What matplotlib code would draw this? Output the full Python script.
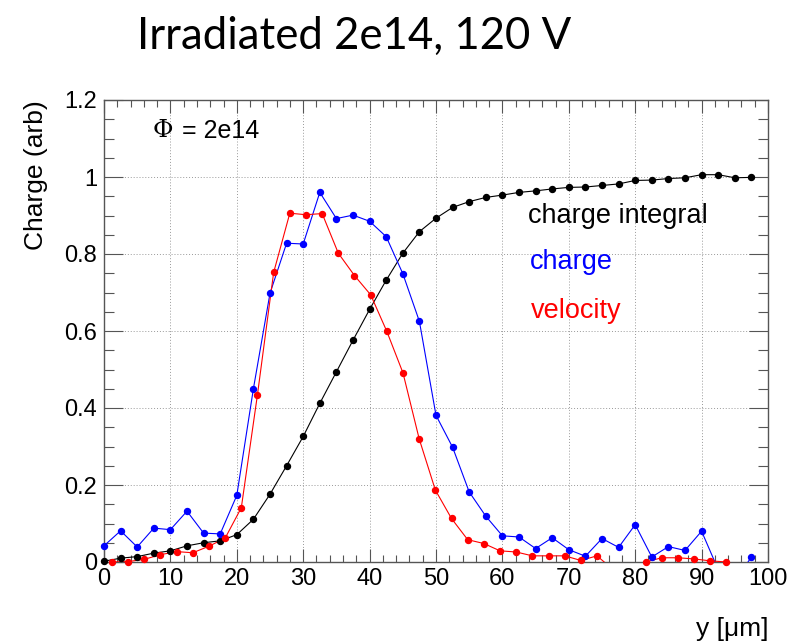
import numpy as np
import matplotlib.pyplot as plt
from matplotlib.ticker import MultipleLocator

# depth positions, um
y_pos = np.arange(40) * 2.5
y_vel = 1.2 + 2.435 * np.arange(39)

# normalised charge integral
q_int = [0.002, 0.010, 0.014, 0.023, 0.029, 0.042, 0.050, 0.055, 0.071, 0.111,
         0.176, 0.250, 0.326, 0.412, 0.494, 0.576, 0.656, 0.732, 0.802, 0.858,
         0.893, 0.921, 0.936, 0.947, 0.953, 0.960, 0.964, 0.969, 0.973, 0.974,
         0.978, 0.982, 0.991, 0.992, 0.996, 0.998, 1.006, 1.006, 0.998, 0.999]

# charge profile
q = [0.042, 0.081, 0.039, 0.088, 0.084, 0.132, 0.075, 0.073, 0.173, 0.450,
     0.698, 0.828, 0.826, 0.960, 0.892, 0.901, 0.885, 0.845, 0.749, 0.625,
     0.381, 0.298, 0.182, 0.119, 0.068, 0.065, 0.035, 0.063, 0.032, 0.015,
     0.061, 0.038, 0.097, 0.013, 0.040, 0.030, 0.080, -0.020, -0.050, 0.013]

# velocity profile
vel = [0.000, 0.001, 0.007, 0.019, 0.027, 0.024, 0.041, 0.062, 0.141, 0.435,
       0.752, 0.906, 0.902, 0.905, 0.802, 0.744, 0.694, 0.599, 0.491, 0.320,
       0.187, 0.113, 0.058, 0.048, 0.029, 0.026, 0.016, 0.016, 0.016, 0.004,
       0.016, -0.020, -0.020, 0.000, 0.011, 0.011, 0.008, 0.003, 0.000]

W, H = 802, 643
fig = plt.figure(figsize=(W / 100, H / 100), dpi=100)
ax = fig.add_axes([104 / W, 1 - 562 / H, 664 / W, 462 / H])

helv = 'Liberation Sans'

def draw(x, y, col):
    x = np.asarray(x)
    y = np.asarray(y)
    ax.plot(x, y, '-', color=col, lw=0.8, zorder=3)
    ok = y >= 0
    ax.plot(x[ok], y[ok], 'o', color=col, ms=4.3, mec=col, clip_on=False, zorder=4)

draw(y_pos, q_int, 'black')
draw(y_pos, q, 'blue')
draw(y_vel, vel, 'red')

ax.set_xlim(0, 100)
ax.set_ylim(0, 1.2)
ax.xaxis.set_major_locator(MultipleLocator(10))
ax.xaxis.set_minor_locator(MultipleLocator(2))
ax.yaxis.set_major_locator(MultipleLocator(0.2))
ax.yaxis.set_minor_locator(MultipleLocator(0.05))
ax.set_yticks(np.arange(0, 1.21, 0.2))
ax.set_yticklabels(['0', '0.2', '0.4', '0.6', '0.8', '1', '1.2'])

fc = '#555555'
for s in ax.spines.values():
    s.set_color(fc)
    s.set_linewidth(1.0)
ax.tick_params(axis='both', which='both', direction='in', top=True, right=True,
               color=fc, width=0.8, labelsize=17)
ax.tick_params(axis='y', which='major', length=14, pad=5)
ax.tick_params(axis='y', which='minor', length=7)
ax.tick_params(axis='x', which='major', length=9.5, pad=4)
ax.tick_params(axis='x', which='minor', length=5)
for lab in ax.get_xticklabels() + ax.get_yticklabels():
    lab.set_family(helv)

ax.grid(True, which='major', color='#999999', lw=0.7, ls=(0, (1, 2)))

ax.set_ylabel('Charge (arb)', fontsize=19, family=helv, loc='top', labelpad=12)
ax.set_xlabel('y [\u03bcm]', fontsize=19, family=helv, loc='right', labelpad=20)

# annotations
ax.text((153 - 104) / 664, 0.933, '\u03a6', transform=ax.transAxes, fontsize=18,
        family='DejaVu Serif', va='center', ha='left')
ax.text((182 - 104) / 664, 0.933, '= 2e14', transform=ax.transAxes, fontsize=18,
        family=helv, va='center', ha='left')
ax.text((528 - 104) / 664, (562 - 216) / 462, 'charge integral', transform=ax.transAxes,
        fontsize=19.5, family=helv, va='center', ha='left', color='black')
ax.text((530 - 104) / 664, (562 - 262) / 462, 'charge', transform=ax.transAxes,
        fontsize=19.5, family=helv, va='center', ha='left', color='blue')
ax.text((531 - 104) / 664, (562 - 311) / 462, 'velocity', transform=ax.transAxes,
        fontsize=19.5, family=helv, va='center', ha='left', color='red')

fig.text(354 / W, 1 - 49 / H, 'Irradiated 2e14, 120 V', fontsize=31.5,
         family='Lato', ha='center', va='baseline')

fig.savefig('out.png', dpi=100)
